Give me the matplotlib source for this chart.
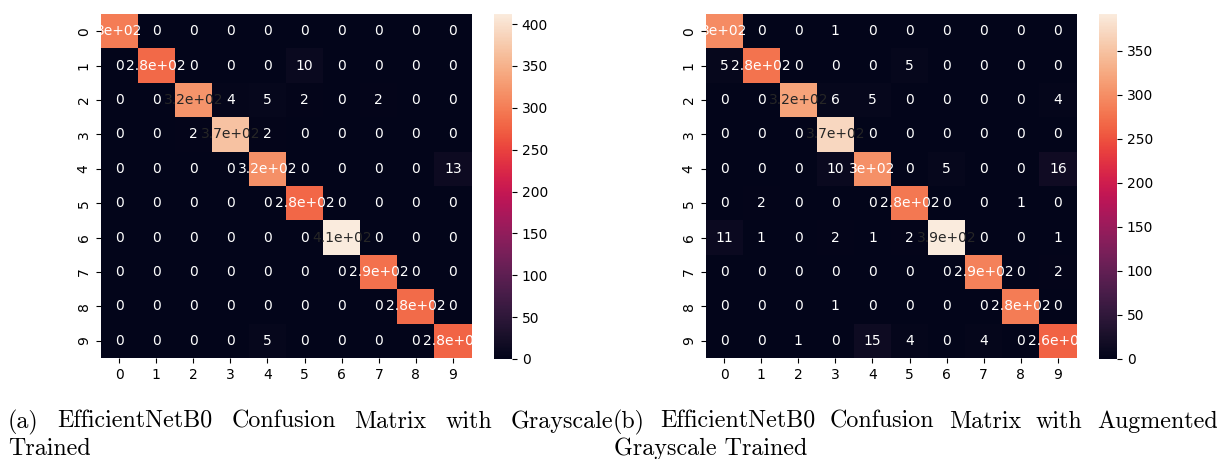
import matplotlib
matplotlib.use("Agg")
import matplotlib.pyplot as plt
import numpy as np
import seaborn as sns

# confusion matrix, grayscale trained
cm_gray = np.array([
    [299, 0, 0, 0, 0, 0, 0, 0, 0, 0],
    [0, 282, 0, 0, 0, 10, 0, 0, 0, 0],
    [0, 0, 321, 4, 5, 2, 0, 2, 0, 0],
    [0, 0, 2, 368, 2, 0, 0, 0, 0, 0],
    [0, 0, 0, 0, 318, 0, 0, 0, 0, 13],
    [0, 0, 0, 0, 0, 281, 0, 0, 0, 0],
    [0, 0, 0, 0, 0, 0, 412, 0, 0, 0],
    [0, 0, 0, 0, 0, 0, 0, 289, 0, 0],
    [0, 0, 0, 0, 0, 0, 0, 0, 284, 0],
    [0, 0, 0, 0, 5, 0, 0, 0, 0, 278],
])

# confusion matrix, augmented grayscale trained
cm_aug = np.array([
    [298, 0, 0, 1, 0, 0, 0, 0, 0, 0],
    [5, 276, 0, 0, 0, 5, 0, 0, 0, 0],
    [0, 0, 319, 6, 5, 0, 0, 0, 0, 4],
    [0, 0, 0, 371, 0, 0, 0, 0, 0, 0],
    [0, 0, 0, 10, 303, 0, 5, 0, 0, 16],
    [0, 2, 0, 0, 0, 281, 0, 0, 1, 0],
    [11, 1, 0, 2, 1, 2, 392, 0, 0, 1],
    [0, 0, 0, 0, 0, 0, 0, 289, 0, 2],
    [0, 0, 0, 1, 0, 0, 0, 0, 284, 0],
    [0, 0, 1, 0, 15, 4, 0, 4, 0, 262],
])

caption_a = ["(a) EfficientNetB0 Confusion Matrix with Grayscale", "Trained"]
caption_b = ["(b) EfficientNetB0 Confusion Matrix with Augmented", "Grayscale Trained"]

W, H = 1228, 459
fig = plt.figure(figsize=(W / 100, H / 100), dpi=100)


def px(x0, y0, x1, y1):
    return [x0 / W, 1 - y1 / H, (x1 - x0) / W, (y1 - y0) / H]


ax1 = fig.add_axes(px(100.5, 14, 471.5, 358))
cax1 = fig.add_axes(px(494, 14, 512, 359))
ax2 = fig.add_axes(px(705.5, 14, 1076.5, 358))
cax2 = fig.add_axes(px(1099, 14, 1117, 359))

sns.heatmap(cm_gray, annot=True, ax=ax1, cbar_ax=cax1)
sns.heatmap(cm_aug, annot=True, ax=ax2, cbar_ax=cax2)

for ax in (ax1, ax2):
    ax.tick_params(labelsize=10)

fig.canvas.draw()
renderer = fig.canvas.get_renderer()
cap_font = dict(family="cmr10", fontsize=17.3, color="black")


def justified(line, x0, x1, y):
    # spread words evenly between x0 and x1 (pixels), like LaTeX
    words = line.split()
    texts = [fig.text(0, 1 - y / H, w, va="baseline", ha="left", **cap_font) for w in words]
    widths = [t.get_window_extent(renderer).width for t in texts]
    gap = (x1 - x0 - sum(widths)) / (len(words) - 1)
    x = x0
    for t, w in zip(texts, widths):
        t.set_x(x / W)
        x += w + gap


justified(caption_a[0], 8, 613, 428)
fig.text(8 / W, 1 - 455 / H, caption_a[1], va="baseline", ha="left", **cap_font)
justified(caption_b[0], 613, 1218, 428)
fig.text(614 / W, 1 - 455 / H, caption_b[1], va="baseline", ha="left", **cap_font)

fig.savefig("out.png", dpi=100, facecolor="white")
